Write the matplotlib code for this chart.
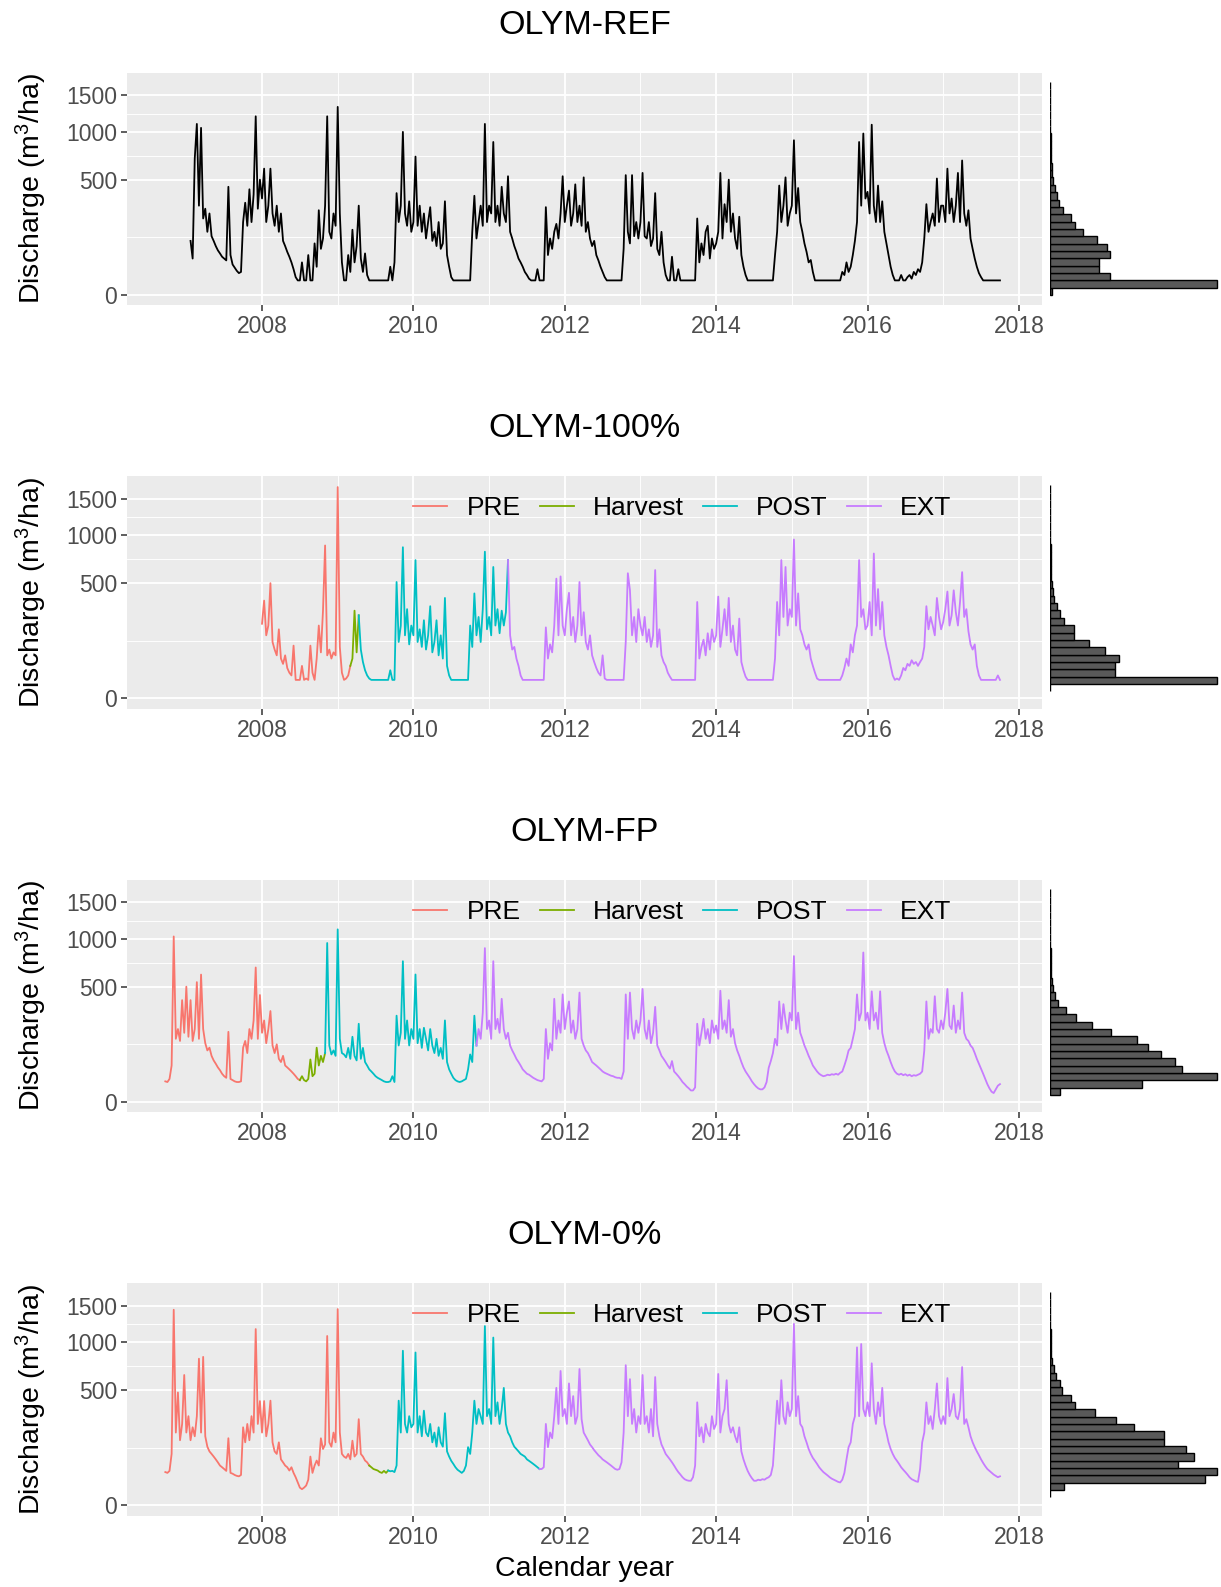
import numpy as np
import matplotlib
matplotlib.use("Agg")
import matplotlib.pyplot as plt

plt.rcParams['font.family'] = ['Liberation Sans', 'DejaVu Sans']
plt.rcParams['mathtext.fontset'] = 'custom'
plt.rcParams['mathtext.rm'] = 'Liberation Sans'
plt.rcParams['mathtext.it'] = 'Liberation Sans:italic'

# Discharge (m3/ha), one value every 1/36 year (~10 days), rows = calendar years
ref_start = 2007 + 2 / 36
ref_q = [
    110, 50, 700, 1100, 300, 1050, 220,
    280, 150, 250, 130, 110, 90, 75, 65, 55,
    50, 45, 440, 60, 35, 28, 22, 18, 20,
    200, 320, 180, 420, 200, 380, 1200, 280, 500,
    # 2008
    350, 600, 200, 300, 600, 250, 180, 300, 150,
    250, 110, 90, 70, 55, 40, 25, 12, 8,
    8, 40, 8, 8, 60, 8, 8, 100, 30,
    270, 80, 120, 300, 1200, 150, 120, 250, 180,
    # 2009
    1330, 250, 40, 8, 8, 60, 20, 160, 40,
    90, 300, 50, 20, 65, 15, 8, 8, 8,
    8, 8, 8, 8, 8, 8, 8, 30, 8,
    40, 390, 200, 300, 1000, 250, 180, 330, 150,
    # 2010
    200, 720, 180, 300, 150, 250, 120, 200, 290,
    110, 150, 90, 200, 80, 100, 330, 60, 30,
    12, 8, 8, 8, 8, 8, 8, 8, 8,
    8, 150, 370, 120, 200, 300, 180, 1100, 200,
    # 2011
    300, 250, 880, 200, 300, 180, 440, 250, 200,
    530, 150, 120, 90, 70, 50, 40, 30, 20,
    15, 10, 8, 8, 8, 25, 8, 8, 8,
    290, 60, 120, 80, 150, 190, 120, 250, 530,
    # 2012
    200, 300, 410, 180, 250, 460, 200, 300, 180,
    520, 150, 200, 120, 90, 110, 60, 45, 30,
    20, 12, 8, 8, 8, 8, 8, 8, 8,
    8, 80, 540, 150, 100, 540, 130, 200, 120,
    # 2013
    200, 560, 130, 120, 200, 90, 120, 390, 80,
    60, 150, 40, 15, 8, 8, 55, 8, 8,
    25, 8, 8, 8, 8, 8, 8, 8, 8,
    220, 40, 100, 60, 150, 180, 50, 120, 80,
    # 2014
    100, 150, 560, 120, 310, 200, 500, 150, 250,
    120, 80, 230, 60, 30, 15, 8, 8, 8,
    8, 8, 8, 8, 8, 8, 8, 8, 8,
    8, 60, 150, 450, 200, 300, 520, 180, 250,
    # 2015
    300, 900, 250, 430, 200, 150, 100, 70, 40,
    46, 20, 8, 8, 8, 8, 8, 8, 8,
    8, 8, 8, 8, 8, 8, 20, 15, 40,
    20, 30, 60, 110, 200, 880, 300, 980, 350,
    # 2016
    400, 250, 1090, 300, 200, 450, 200, 330, 150,
    100, 60, 30, 15, 8, 8, 8, 15, 8,
    8, 12, 15, 10, 20, 15, 25, 20, 40,
    120, 310, 150, 200, 250, 180, 510, 200, 300,
    # 2017
    300, 200, 600, 250, 350, 200, 300, 560, 200,
    680, 250, 180, 270, 120, 80, 50, 30, 18,
    12, 8, 8, 8, 8, 8, 8, 8, 8,
    8,
]

h100_start = 2008.0
h100_q = [
    210, 360, 150, 200, 500, 120, 90, 70, 180,
    60, 45, 70, 35, 25, 20, 105, 13, 13,
    13, 40, 13, 15, 13, 105, 25, 13, 60,
    200, 80, 290, 880, 70, 90, 60, 80, 70,
    # 2009
    1680, 100, 25, 13, 15, 20, 40, 60, 290,
    80, 260, 90, 50, 30, 20, 15, 13, 13,
    13, 13, 13, 13, 13, 13, 13, 30, 13,
    13, 510, 120, 200, 860, 150, 300, 110, 200,
    # 2010
    150, 720, 120, 180, 100, 230, 90, 150, 320,
    80, 120, 230, 70, 150, 60, 380, 40, 20,
    13, 13, 13, 13, 13, 13, 13, 13, 13,
    200, 100, 415, 150, 250, 120, 300, 810, 180,
    # 2011
    250, 150, 650, 200, 300, 160, 290, 200, 280,
    720, 150, 90, 100, 60, 40, 20, 13, 13,
    13, 13, 13, 13, 13, 13, 13, 13, 13,
    190, 60, 110, 80, 200, 540, 150, 560, 200,
    # 2012
    150, 300, 420, 150, 250, 120, 200, 510, 150,
    280, 120, 90, 150, 70, 50, 35, 25, 20,
    70, 15, 13, 13, 13, 13, 13, 13, 13,
    13, 13, 120, 590, 440, 150, 250, 120, 300,
    # 2013
    200, 150, 250, 120, 180, 100, 150, 620, 100,
    180, 70, 50, 40, 25, 18, 13, 13, 13,
    13, 13, 13, 13, 13, 13, 13, 13, 13,
    350, 60, 100, 130, 70, 160, 90, 180, 120,
    # 2014
    150, 390, 100, 180, 300, 150, 380, 120, 200,
    90, 70, 240, 50, 30, 18, 13, 13, 13,
    13, 13, 13, 13, 13, 13, 13, 13, 13,
    13, 60, 350, 150, 720, 250, 650, 200, 300,
    # 2015
    250, 950, 200, 415, 180, 150, 110, 90, 110,
    60, 40, 25, 15, 13, 13, 13, 13, 13,
    13, 13, 13, 13, 13, 13, 20, 35, 60,
    40, 110, 80, 150, 200, 720, 250, 300, 180,
    # 2016
    200, 350, 150, 790, 200, 450, 180, 350, 150,
    100, 70, 40, 20, 13, 15, 13, 20, 35,
    30, 45, 40, 55, 45, 50, 40, 50, 60,
    100, 320, 180, 250, 200, 150, 380, 250, 180,
    # 2017
    220, 300, 430, 200, 260, 440, 280, 200, 350,
    600, 250, 300, 170, 110, 90, 110, 40, 20,
    13, 13, 13, 13, 13, 13, 13, 13, 20,
    13,
]

fp_start = 2006 + 26 / 36
fp_q = [
    16, 15, 20, 50, 1030, 150, 200, 140, 390, 180,
    # 2007
    500, 160, 390, 140, 200, 540, 150, 610, 200,
    130, 100, 111, 80, 65, 55, 45, 38, 30,
    25, 22, 185, 20, 18, 16, 15, 15, 16,
    111, 140, 90, 200, 150, 250, 680, 150, 430,
    # 2008
    180, 250, 130, 200, 311, 120, 90, 125, 70,
    60, 80, 50, 45, 40, 35, 30, 25, 20,
    18, 25, 18, 16, 20, 68, 25, 30, 111,
    50, 80, 60, 90, 950, 120, 85, 100, 80,
    # 2009
    1120, 150, 90, 85, 75, 110, 70, 160, 80,
    65, 230, 70, 110, 60, 50, 40, 35, 30,
    25, 22, 20, 18, 16, 15, 15, 16, 25,
    15, 280, 120, 180, 745, 150, 250, 120, 200,
    # 2010
    150, 611, 130, 200, 110, 207, 150, 100, 200,
    120, 90, 150, 80, 110, 70, 250, 60, 40,
    30, 22, 18, 16, 15, 16, 18, 20, 40,
    85, 60, 280, 120, 200, 150, 300, 890, 200,
    # 2011
    250, 150, 745, 200, 260, 180, 400, 200, 150,
    180, 120, 100, 85, 70, 60, 50, 40, 35,
    30, 28, 25, 22, 20, 18, 17, 16, 20,
    200, 70, 130, 100, 400, 150, 250, 180, 435,
    # 2012
    200, 300, 380, 180, 250, 150, 200, 450, 150,
    120, 100, 90, 75, 60, 55, 50, 45, 40,
    35, 32, 30, 28, 26, 25, 23, 22, 22,
    20, 35, 435, 150, 450, 200, 150, 250, 180,
    # 2013
    250, 480, 200, 150, 250, 130, 180, 340, 120,
    100, 80, 70, 60, 50, 42, 63, 35, 30,
    25, 20, 15, 12, 9, 7, 5, 5, 8,
    230, 120, 180, 260, 150, 200, 130, 250, 180,
    # 2014
    220, 150, 465, 200, 250, 180, 390, 160, 200,
    130, 100, 80, 60, 45, 35, 28, 22, 16,
    12, 9, 7, 6, 6, 8, 15, 44, 63,
    90, 150, 120, 380, 200, 360, 250, 180, 300,
    # 2015
    250, 800, 200, 300, 180, 150, 120, 100, 80,
    65, 50, 42, 35, 30, 27, 25, 26, 28,
    27, 29, 28, 30, 28, 32, 35, 50, 70,
    100, 110, 150, 200, 435, 250, 300, 840, 250,
    # 2016
    300, 200, 460, 250, 300, 200, 460, 180, 130,
    100, 80, 60, 45, 35, 30, 28, 30, 27,
    29, 26, 28, 25, 27, 26, 28, 30, 35,
    100, 380, 150, 200, 180, 420, 200, 180, 250,
    # 2017
    200, 300, 480, 220, 200, 350, 180, 250, 200,
    450, 180, 150, 140, 120, 110, 90, 70, 55,
    42, 30, 20, 12, 7, 4, 3, 6, 10,
    12,
]

h0_start = 2006 + 26 / 36
h0_q = [
    42, 40, 45, 100, 1440, 200, 480, 160, 250, 640,
    # 2007
    200, 300, 160, 230, 180, 300, 810, 200, 830,
    180, 130, 110, 100, 90, 80, 70, 60, 55,
    50, 45, 170, 40, 38, 35, 33, 32, 35,
    230, 150, 250, 160, 300, 200, 1170, 250, 410,
    # 2008
    200, 410, 180, 250, 413, 150, 110, 100, 150,
    80, 70, 60, 55, 46, 55, 40, 30, 20,
    12, 10, 12, 15, 25, 90, 40, 60, 76,
    60, 170, 120, 140, 1080, 150, 130, 200, 150,
    # 2009
    1450, 200, 100, 90, 85, 100, 80, 158, 90,
    100, 280, 100, 90, 76, 70, 60, 55, 50,
    48, 46, 42, 40, 45, 40, 46, 44, 45,
    42, 60, 413, 200, 900, 250, 200, 300, 230,
    # 2010
    250, 880, 200, 300, 180, 338, 200, 180, 250,
    150, 200, 130, 230, 150, 130, 320, 110, 90,
    75, 65, 55, 48, 44, 40, 45, 60, 128,
    100, 200, 413, 250, 350, 300, 250, 1210, 300,
    # 2011
    350, 250, 1060, 300, 400, 250, 350, 520, 250,
    200, 180, 150, 130, 120, 110, 100, 95, 90,
    80, 75, 70, 65, 60, 55, 50, 50, 55,
    250, 128, 200, 170, 300, 520, 250, 680, 300,
    # 2012
    350, 250, 560, 300, 450, 250, 300, 700, 280,
    200, 180, 160, 140, 128, 115, 105, 95, 88,
    80, 75, 70, 65, 60, 55, 50, 48, 50,
    70, 200, 740, 300, 600, 250, 350, 200, 300,
    # 2013
    250, 640, 250, 300, 200, 350, 180, 620, 250,
    180, 140, 120, 100, 90, 80, 70, 60, 50,
    42, 36, 30, 26, 24, 23, 23, 30, 60,
    400, 180, 230, 150, 250, 200, 180, 300, 220,
    # 2014
    250, 650, 200, 300, 350, 590, 250, 200, 230,
    180, 150, 230, 110, 80, 60, 45, 35, 28,
    23, 23, 25, 24, 26, 25, 28, 30, 35,
    60, 200, 413, 250, 590, 300, 250, 400, 300,
    # 2015
    350, 1240, 300, 450, 250, 230, 180, 150, 120,
    100, 85, 75, 65, 55, 48, 42, 38, 34,
    30, 27, 25, 23, 21, 20, 25, 40, 80,
    128, 150, 250, 300, 940, 300, 980, 350, 300,
    # 2016
    400, 300, 760, 350, 250, 400, 300, 520, 250,
    200, 150, 120, 100, 85, 75, 65, 55, 48,
    42, 36, 30, 26, 24, 22, 21, 50, 150,
    200, 400, 250, 300, 220, 350, 560, 300, 250,
    # 2017
    300, 250, 610, 300, 350, 467, 300, 280, 350,
    720, 250, 280, 230, 180, 150, 128, 110, 95,
    80, 68, 58, 50, 45, 40, 36, 33, 30,
    32,
]

# treatment phases (dates where the next phase starts)
phase_names = ['PRE', 'Harvest', 'POST', 'EXT']
phase_colors = ['#F8766D', '#7CAE00', '#00BFC4', '#C77CFF']
h100_breaks = [2009.14, 2009.27, 2011.24]
fp_breaks = [2008.49, 2008.83, 2010.81]
h0_breaks = [2009.40, 2009.64, 2011.65]

# marginal histograms: sqrt-range of the bins and counts (bottom to top)
ref_hist_rng = (0.0, 41.3)
ref_hist = [12, 1050, 380, 310, 310, 380, 360, 295, 205, 155,
            130, 80, 57, 44, 30, 19, 13, 11, 9, 7,
            6, 4, 3, 3, 2, 2, 1, 1, 1]
h100_hist_rng = (1.39, 41.3)
h100_hist = [3, 1035, 400, 400, 430, 340, 240, 150, 150, 86,
             61, 44, 27, 20, 12, 9, 7, 6, 5, 4,
             3, 2, 2, 1, 1, 1, 1, 1]
fp_hist_rng = (1.36, 41.2)
fp_hist = [40, 370, 675, 535, 505, 450, 395, 350, 245, 170,
           105, 65, 32, 20, 12, 8, 6, 4, 4, 3,
           2, 2, 1, 1, 1, 1, 1, 1]
h0_hist_rng = (1.57, 41.4)
h0_hist = [0, 45, 495, 535, 410, 460, 435, 365, 365, 270,
           210, 145, 80, 67, 38, 32, 19, 13, 6, 3,
           3, 2, 2, 1, 1, 1, 1, 1]

titles = ['OLYM-REF', 'OLYM-100%', 'OLYM-FP', 'OLYM-0%']
y_ticks = [0, 500, 1000, 1500]
x_ticks = [2008, 2010, 2012, 2014, 2016, 2018]


def sq_fwd(v):
    v = np.asarray(v, dtype=float)
    return np.sign(v) * np.sqrt(np.abs(v))


def sq_inv(s):
    s = np.asarray(s, dtype=float)
    return np.sign(s) * s ** 2


panels = [
    (titles[0], ref_start, ref_q, None, ref_hist_rng, ref_hist),
    (titles[1], h100_start, h100_q, h100_breaks, h100_hist_rng, h100_hist),
    (titles[2], fp_start, fp_q, fp_breaks, fp_hist_rng, fp_hist),
    (titles[3], h0_start, h0_q, h0_breaks, h0_hist_rng, h0_hist),
]

W, H = 1221, 1587
fig = plt.figure(figsize=(W / 100, H / 100), dpi=100)

# minor grid halfway between major breaks on the sqrt scale
s_ticks = sq_fwd(y_ticks)
y_minor = sq_inv((s_ticks[:-1] + s_ticks[1:]) / 2)
y_lim = (sq_inv(-1.94), sq_inv(43.1))

for i, (title, start, q, breaks, hrng, hcounts) in enumerate(panels):
    top = 72.7 + 403.5 * i
    bot = 305.0 + 403.5 * i
    ax = fig.add_axes([127.3 / W, 1 - bot / H, 914.3 / W, (bot - top) / H])
    hx = fig.add_axes([1050 / W, 1 - bot / H, 169 / W, (bot - top) / H])

    q = np.array(q, dtype=float)
    x = start + np.arange(len(q)) / 36.0

    if breaks is None:
        ax.plot(x, q, color='black', lw=1.3)
    else:
        ph = np.searchsorted(breaks, x, side='right')
        for j in range(len(phase_names)):
            idx = np.where(ph == j)[0]
            if len(idx) == 0:
                continue
            end = min(idx[-1] + 2, len(x))
            ax.plot(x[idx[0]:end], q[idx[0]:end], color=phase_colors[j],
                    lw=1.3, label=phase_names[j])
        ax.legend(loc='center', bbox_to_anchor=(0.607, 0.862), ncol=4,
                  frameon=False, fontsize=19, handlelength=1.3,
                  handletextpad=0.72, columnspacing=0.72, borderpad=0,
                  borderaxespad=0)

    ax.set_yscale('function', functions=(sq_fwd, sq_inv))
    ax.set_ylim(*y_lim)
    ax.set_xlim(2006.22, 2018.30)
    ax.set_yticks(y_ticks)
    ax.set_yticklabels([str(t) for t in y_ticks])
    ax.set_yticks(y_minor, minor=True)
    ax.set_xticks(x_ticks)
    ax.set_xticklabels([str(t) for t in x_ticks])
    ax.set_xticks(np.array(x_ticks[:-1]) + 1, minor=True)

    ax.set_facecolor('#EBEBEB')
    for s in ax.spines.values():
        s.set_visible(False)
    ax.grid(which='major', color='white', lw=1.3)
    ax.grid(which='minor', color='white', lw=0.65)
    ax.set_axisbelow(True)
    ax.tick_params(which='major', length=4, width=1.1, color='#333333',
                   labelsize=16.5, labelcolor='#4D4D4D', pad=3.5)
    ax.tick_params(which='minor', length=0)

    ax.set_ylabel('Discharge (m$^3$/ha)', fontsize=20.5)
    ax.yaxis.label.set_va('center')
    ax.yaxis.set_label_coords(-0.105, 0.5)
    ax.text(0.5, 1 + 47.5 / (bot - top), title, transform=ax.transAxes,
            ha='center', va='center', fontsize=24.5)

    if i == len(panels) - 1:
        ax.set_xlabel('Calendar year', fontsize=20.5)
        ax.xaxis.label.set_va('center')
        ax.xaxis.set_label_coords(0.5, -53.5 / (bot - top))

    # marginal histogram on the same sqrt scale
    edges = sq_inv(np.linspace(hrng[0], hrng[1], len(hcounts) + 1))
    hx.set_yscale('function', functions=(sq_fwd, sq_inv))
    hx.barh(edges[:-1], hcounts, height=np.diff(edges), align='edge',
            color='#595959', edgecolor='black', lw=1.0)
    hx.set_ylim(*y_lim)
    hx.set_xlim(0, max(hcounts) * 1.012)
    hx.axis('off')

fig.savefig('out.png', dpi=100)
